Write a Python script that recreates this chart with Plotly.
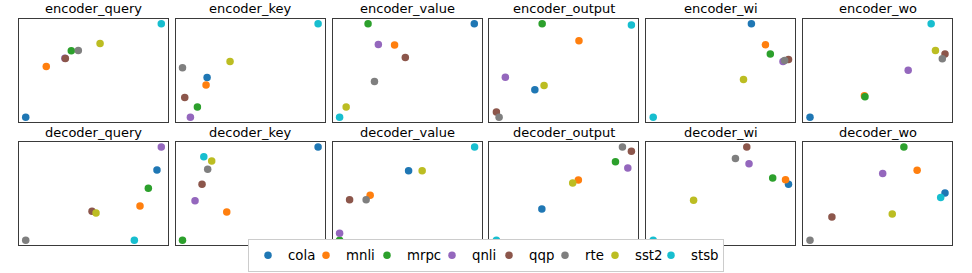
import plotly.graph_objects as go

panels = ["encoder_query", "encoder_key", "encoder_value", "encoder_output", "encoder_wi", "encoder_wo",
          "decoder_query", "decoder_key", "decoder_value", "decoder_output", "decoder_wi", "decoder_wo"]
tasks = ["cola", "mnli", "mrpc", "qnli", "qqp", "rte", "sst2", "stsb"]
colors = ["#1f77b4", "#ff7f0e", "#2ca02c", "#9467bd", "#8c564b", "#7f7f7f", "#bcbd22", "#17becf"]

cola_x = [0.045, 0.210, 0.951, 0.305, 0.706, 0.047, 0.926, 0.955, 0.510, 0.352, 0.955, 0.953]
cola_y = [0.045, 0.432, 0.955, 0.312, 0.955, 0.045, 0.728, 0.951, 0.722, 0.350, 0.589, 0.505]
mnli_x = [0.183, 0.203, 0.416, 0.601, 0.800, 0.412, 0.812, 0.342, 0.252, 0.597, 0.935, 0.766]
mnli_y = [0.539, 0.360, 0.747, 0.789, 0.750, 0.256, 0.379, 0.320, 0.482, 0.631, 0.634, 0.725]
mrpc_x = [0.351, 0.145, 0.238, 0.354, 0.833, 0.416, 0.868, 0.045, 0.047, 0.846, 0.849, 0.677]
mrpc_y = [0.692, 0.146, 0.955, 0.955, 0.659, 0.244, 0.550, 0.045, 0.045, 0.809, 0.650, 0.951]
qnli_x = [0.308, 0.098, 0.307, 0.107, 0.918, 0.706, 0.955, 0.129, 0.047, 0.929, 0.690, 0.535]
qnli_y = [0.620, 0.045, 0.753, 0.435, 0.588, 0.503, 0.951, 0.430, 0.113, 0.748, 0.790, 0.693]
qqp_x = [0.311, 0.060, 0.488, 0.047, 0.955, 0.953, 0.490, 0.176, 0.114, 0.953, 0.675, 0.194]
qqp_y = [0.617, 0.237, 0.627, 0.097, 0.607, 0.659, 0.327, 0.589, 0.440, 0.909, 0.951, 0.272]
rte_x = [0.398, 0.045, 0.281, 0.065, 0.929, 0.935, 0.045, 0.214, 0.225, 0.893, 0.599, 0.047]
rte_y = [0.695, 0.526, 0.393, 0.045, 0.597, 0.614, 0.045, 0.735, 0.440, 0.951, 0.841, 0.045]
sst2_x = [0.544, 0.364, 0.091, 0.367, 0.653, 0.889, 0.517, 0.241, 0.601, 0.559, 0.318, 0.599]
sst2_y = [0.763, 0.588, 0.146, 0.354, 0.412, 0.695, 0.311, 0.816, 0.722, 0.602, 0.434, 0.301]
stsb_x = [0.955, 0.955, 0.047, 0.953, 0.047, 0.860, 0.774, 0.188, 0.953, 0.047, 0.047, 0.924]
stsb_y = [0.955, 0.955, 0.045, 0.942, 0.045, 0.955, 0.045, 0.858, 0.951, 0.045, 0.045, 0.460]

xs = [cola_x, mnli_x, mrpc_x, qnli_x, qqp_x, rte_x, sst2_x, stsb_x]
ys = [cola_y, mnli_y, mrpc_y, qnli_y, qqp_y, rte_y, sst2_y, stsb_y]
legend_widths = [13, 16, 20, 12, 11, 5, 11, 27]

W, H = 972, 273
FONT = "DejaVu Sans"
fig = go.Figure()

for p, name in enumerate(panels):
    row, col = divmod(p, 6)
    x0 = 19 + 156.8 * col
    x1 = x0 + 149
    y0, y1 = (19, 122) if row == 0 else (142, 245)
    sfx = "" if p == 0 else str(p + 1)
    common = dict(range=[0, 1], showticklabels=False, ticks="", showgrid=False, zeroline=False,
                  showline=True, mirror=True, linecolor="#3a3a3a", linewidth=1, fixedrange=True)
    fig.layout["xaxis" + sfx] = dict(common, domain=[x0 / W, x1 / W], anchor="y" + sfx)
    fig.layout["yaxis" + sfx] = dict(common, domain=[1 - y1 / H, 1 - y0 / H], anchor="x" + sfx)
    for t, task in enumerate(tasks):
        fig.add_trace(go.Scatter(
            x=[xs[t][p]], y=[ys[t][p]], mode="markers", name=task,
            marker=dict(color=colors[t], size=7.5, line=dict(width=0)),
            legendgroup=task, showlegend=(p == 0), legendwidth=legend_widths[t],
            xaxis="x" + sfx, yaxis="y" + sfx, cliponaxis=False))
    fig.add_annotation(text=name, x=(x0 + x1) / 2 / W, y=1 - y0 / H, xref="paper", yref="paper",
                       xanchor="center", yanchor="bottom", yshift=(1 if row == 0 else 0),
                       showarrow=False, font=dict(family=FONT, size=13, color="black"))

fig.update_layout(
    width=W, height=H, margin=dict(l=0, r=0, t=0, b=0),
    paper_bgcolor="white", plot_bgcolor="white",
    font=dict(family=FONT, size=13, color="black"),
    legend=dict(orientation="h", x=0.5, xanchor="center", y=1 / H, yanchor="bottom",
                bgcolor="white", bordercolor="#cccccc", borderwidth=1,
                font=dict(family=FONT, size=13.3)),
)
fig.write_html("out.html", config={"displayModeBar": False},
               post_script="document.body.style.margin='0';document.body.style.overflow='hidden';")
